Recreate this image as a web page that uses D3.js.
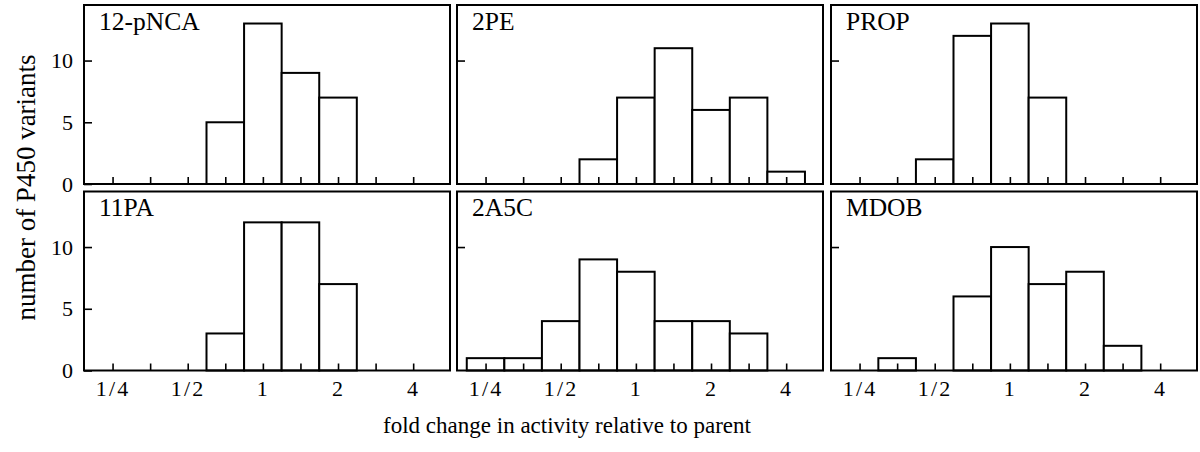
<!DOCTYPE html>
<html>
<head>
<meta charset="utf-8">
<script src="https://cdn.jsdelivr.net/npm/d3@7"></script>
<style>
  body { margin: 0; background: #fff; }
  svg { display: block; font-family: 'Liberation Serif', 'Times New Roman', serif; }
  .tick line { stroke: #000; stroke-width: 1.6; }
  .tick text { font-size: 22px; fill: #000; }
</style>
</head>
<body>
<svg></svg>
<script>
// log2 of fold change at each bin centre
var binCenters = [-2, -1.5, -1, -0.5, 0, 0.5, 1, 1.5, 2];

var panelNames = ['12-pNCA', '2PE', 'PROP', '11PA', '2A5C', 'MDOB'];

var counts12pNCA = [0, 0, 0, 5, 13, 9, 7, 0, 0];
var counts2PE    = [0, 0, 0, 2, 7, 11, 6, 7, 1];
var countsPROP   = [0, 0, 2, 12, 13, 7, 0, 0, 0];
var counts11PA   = [0, 0, 0, 3, 12, 12, 7, 0, 0];
var counts2A5C   = [1, 1, 4, 9, 8, 4, 4, 3, 0];
var countsMDOB   = [0, 1, 0, 6, 10, 7, 8, 2, 0];

var xTickValues = [-2, -1.5, -1, -0.5, 0, 0.5, 1, 1.5, 2];
var xTickLabels = ['1/4', '', '1/2', '', '1', '', '2', '', '4'];
var yTickValues = [0, 5, 10];

var allCounts = [counts12pNCA, counts2PE, countsPROP, counts11PA, counts2A5C, countsMDOB];

var width = 1200;
var height = 452;
var colLefts = [84, 457, 831];
var rowTops = [5, 191.5];
var panelW = 366;
var panelH = 179;
var binHalf = 0.25;

var x = d3.scaleLinear()
  .domain([-2.38, 2.49])
  .range([0, panelW]);

var y = d3.scaleLinear()
  .domain([0, 14.5])
  .range([panelH, 0]);

var svg = d3.select('svg')
  .attr('width', width)
  .attr('height', height);

panelNames.forEach(function(name, i) {
  var col = i % 3;
  var row = Math.floor(i / 3);
  var data = binCenters.map(function(c, j) {
    return { center: c, count: allCounts[i][j] };
  }).filter(d => d.count > 0);

  var g = svg.append('g')
    .attr('transform', 'translate(' + colLefts[col] + ',' + rowTops[row] + ')');

  g.selectAll('.bar')
    .data(data)
    .enter()
    .append('rect')
    .classed('bar', true)
    .attr('x', d => x(d.center - binHalf))
    .attr('width', d => x(d.center + binHalf) - x(d.center - binHalf))
    .attr('y', d => y(d.count))
    .attr('height', d => y(0) - y(d.count))
    .attr('fill', '#fff')
    .attr('stroke', '#000')
    .attr('stroke-width', 2);

  var xAxis = d3.axisBottom(x)
    .tickValues(xTickValues)
    .tickSizeInner(-7)
    .tickSizeOuter(0)
    .tickPadding(10)
    .tickFormat(function(d, k) { return row === 1 ? xTickLabels[k] : ''; });

  var gx = g.append('g')
    .attr('transform', 'translate(0,' + panelH + ')')
    .call(xAxis)
    .attr('font-family', null);
  gx.select('.domain').remove();
  gx.selectAll('text').attr('letter-spacing', '0.1em');

  var yAxis = d3.axisLeft(y)
    .tickValues(col === 0 ? yTickValues : [10])
    .tickSizeInner(-8)
    .tickSizeOuter(0)
    .tickPadding(11)
    .tickFormat(col === 0 ? d3.format('d') : '');

  var gy = g.append('g')
    .call(yAxis)
    .attr('font-family', null);
  gy.select('.domain').remove();

  g.append('rect')
    .attr('width', panelW)
    .attr('height', panelH)
    .attr('fill', 'none')
    .attr('stroke', '#000')
    .attr('stroke-width', 2);

  g.append('text')
    .attr('x', 15)
    .attr('y', 24.5)
    .attr('font-size', '25.5px')
    .text(name);
});

svg.append('text')
  .attr('transform', 'translate(35,187.5) rotate(-90)')
  .attr('text-anchor', 'middle')
  .attr('font-size', '27px')
  .text('number of P450 variants');

svg.append('text')
  .attr('x', 567)
  .attr('y', 433)
  .attr('text-anchor', 'middle')
  .attr('font-size', '23px')
  .text('fold change in activity relative to parent');
</script>
</body>
</html>
